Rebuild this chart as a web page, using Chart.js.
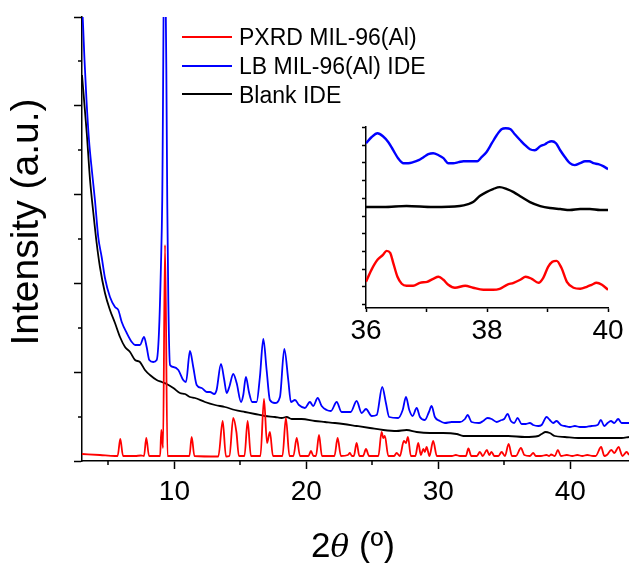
<!DOCTYPE html>
<html>
<head>
<meta charset="utf-8">
<title>PXRD MIL-96(Al)</title>
<script src="https://cdn.jsdelivr.net/npm/chart.js@4.4.1/dist/chart.umd.min.js"></script>
<style>
body { margin: 0; background: #fff; }
#wrap { position: relative; width: 629px; height: 563px; overflow: hidden; font-family: "Liberation Sans", Arial, sans-serif; color: #000; }
#main { position: absolute; left: 0; top: 0; }
#inset { position: absolute; left: 340px; top: 110px; }
.key { position: absolute; left: 182px; width: 50px; height: 0; border-top: 2px solid; }
.keytext { position: absolute; left: 239px; height: 29px; font-size: 23px; line-height: 29px; white-space: nowrap; }
#ytitle { position: absolute; left: -125px; top: 202px; width: 300px; height: 40px; line-height: 40px; font-size: 39px; text-align: center; transform: rotate(-90deg); white-space: nowrap; }
#xtitle { position: absolute; left: 203px; top: 528px; width: 300px; height: 34px; line-height: 34px; font-size: 35px; text-align: center; white-space: nowrap; }
#xtitle i { font-family: "DejaVu Serif", serif; font-size: 31px; }
</style>
</head>
<body>
<div id="wrap">
  <canvas id="main" width="629" height="563"></canvas>
  <canvas id="inset" width="289" height="240"></canvas>

  <div class="key" style="top:36px;border-color:#ff0000"></div>
  <div class="keytext" style="top:23px">PXRD MIL-96(Al)</div>
  <div class="key" style="top:65px;border-color:#0000ff"></div>
  <div class="keytext" style="top:52px">LB MIL-96(Al) IDE</div>
  <div class="key" style="top:93px;border-color:#000000"></div>
  <div class="keytext" style="top:81px">Blank IDE</div>

  <div id="ytitle">Intensity (a.u.)</div>
  <div id="xtitle">2<i>θ</i> (º)</div>
</div>

<script>
// main pattern, 2theta in degrees, intensity in a.u.
var pxrdTheta = [3.00, 4.36, 5.50, 5.70, 5.90, 6.11, 7.02, 7.47, 7.70, 7.87, 8.08, 8.76, 8.92, 9.01, 9.14, 9.29, 9.48,
    10.08, 11.14, 11.31, 11.52, 13.33, 13.66, 13.91, 14.17, 14.46, 14.70, 14.89, 15.31, 15.55, 15.80, 16.52, 16.79,
    17.02, 17.24, 17.47, 18.19, 18.45, 18.72, 19.02, 19.27, 19.52, 20.16, 20.35, 20.54, 20.73, 20.96, 21.18, 22.13,
    22.37, 22.62, 23.15, 23.30, 23.45, 23.60, 23.81, 24.02, 24.30, 24.52, 24.75, 25.46, 25.70, 25.83, 25.95, 26.21,
    26.65, 26.84, 27.09, 27.39, 27.55, 27.70, 27.92, 28.26, 28.48, 28.68, 28.86, 28.98, 29.11, 29.33, 29.61, 29.89,
    31.03, 31.33, 31.64, 32.09, 32.28, 32.50, 32.92, 33.15, 33.37, 33.68, 33.86, 34.03, 34.25, 34.55, 34.80, 35.05,
    35.33, 35.58, 35.88, 36.26, 36.52, 36.94, 37.19, 37.39, 37.77, 38.20, 38.40, 38.55, 38.83, 39.06, 39.29, 39.74,
    40.15, 40.53, 40.91, 41.28, 41.73, 41.92, 42.34, 42.58, 42.77, 43.11, 43.34, 43.66, 43.95, 44.27, 44.45];
var pxrdIntensity = [7, 6, 5, 5, 22, 5, 5, 5.5, 5, 23, 5, 5, 5, 31, 13, 216, 5,
    5, 5, 24, 5, 4.5, 40, 4.5, 5, 43, 29, 5, 5, 40, 5, 5, 62,
    18, 29, 5, 5, 43, 5, 5, 23, 5, 5, 10, 5, 5, 26, 5, 5,
    23, 5, 6, 8, 5, 5, 18, 5, 5, 12, 5, 5, 29, 23, 25, 5,
    5, 8, 5, 20, 18, 24, 5, 5, 18, 6, 12, 9, 14, 5, 20, 5,
    5, 6, 5, 5, 12.5, 5, 5, 9, 5, 11, 6, 9, 5, 5, 9, 5,
    17, 5, 5, 13, 6, 5, 8, 5, 5, 6, 5, 6.5, 5, 11, 5, 6,
    5, 6, 5, 6, 5, 5, 14, 5, 6, 11, 8, 14, 5, 9, 6];

var lbTheta = [3.00, 3.05, 3.19, 3.34, 3.53, 3.76, 3.98, 4.23, 4.49, 4.74, 5.12, 5.50, 5.75, 6.01, 6.39, 6.77, 7.02,
    7.39, 7.70, 7.90, 8.10, 8.40, 8.66, 8.83, 8.98, 9.08, 9.27, 9.46, 9.54, 9.67, 9.92, 10.30, 10.67, 10.88, 11.18,
    11.43, 11.69, 12.07, 12.45, 12.70, 13.02, 13.20, 13.53, 13.78, 13.96, 14.16, 14.46, 14.72, 15.05, 15.22, 15.42,
    15.65, 15.90, 16.23, 16.48, 16.74, 16.99, 17.24, 17.62, 18.00, 18.33, 18.63, 18.83, 19.14, 19.44, 19.89, 20.27,
    20.52, 20.86, 21.16, 21.54, 21.86, 22.30, 22.67, 23.36, 23.81, 24.19, 24.52, 24.95, 25.33, 25.75, 26.03, 26.28,
    26.96, 27.30, 27.55, 27.80, 28.05, 28.36, 28.61, 28.98, 29.29, 29.49, 29.74, 30.12, 30.50, 31.01, 31.64, 32.02,
    32.22, 32.52, 33.08, 33.40, 33.73, 34.04, 34.42, 34.80, 34.99, 35.25, 35.50, 35.75, 36.01, 36.31, 36.61, 36.94,
    37.19, 37.57, 37.83, 38.20, 38.45, 38.70, 38.96, 39.29, 39.59, 39.97, 40.35, 40.73, 41.11, 41.61, 42.07, 42.32,
    42.57, 42.83, 43.08, 43.33, 43.63, 43.89, 44.19, 44.45];
var lbIntensity = [452, 444, 401, 361, 321, 289, 261, 224, 204, 183, 164, 154, 151, 139, 128, 119, 116,
    116, 124, 114, 101, 99, 101, 128, 194, 261, 560, 261, 161, 96, 94, 91, 81, 79, 110,
    94, 76, 73, 69, 69, 67, 71, 97, 81, 68, 74, 87, 78, 59, 66, 84,
    69, 59, 59, 84, 122, 91, 61, 58, 64, 112, 81, 59, 61, 56, 53, 59,
    55, 63, 55, 51, 50, 59, 49, 49, 60, 48, 52, 45, 46, 74, 58, 44,
    43, 51, 64, 51, 45, 53, 44, 41, 49, 55, 44, 40, 38, 39, 39, 42,
    46, 39, 38, 40, 43, 42, 39, 41, 42, 47, 40, 38, 43, 37, 37, 38,
    36, 35, 36, 44, 41, 38, 40, 36, 35, 34, 35, 34, 34, 35, 36, 41,
    35, 38, 40, 38, 42, 38, 38, 38];

var blankTheta = [3.00, 3.36, 3.61, 3.86, 4.11, 4.36, 4.74, 5.12, 5.50, 5.88, 6.26, 6.64, 7.02, 7.39, 7.77, 8.15,
    8.66, 9.04, 9.42, 9.92, 10.42, 10.80, 11.18, 11.56, 12.32, 13.08, 13.83, 14.59, 15.35, 16.11, 16.86, 17.62,
    18.13, 18.51, 18.89, 19.64, 20.65, 21.41, 22.17, 22.80, 23.81, 24.82, 25.83, 26.84, 27.60, 28.36, 29.36, 30.37,
    31.39, 31.89, 32.39, 33.15, 34.04, 35.30, 36.56, 37.57, 37.83, 38.13, 38.45, 38.83, 39.59, 40.60, 41.61, 42.87,
    43.89, 44.45];
var blankIntensity = [386, 328, 281, 248, 218, 194, 168, 151, 138, 124, 114, 109, 101, 99, 91, 86,
    81, 79, 77, 73, 68, 67, 64, 63, 59, 56, 54, 51, 49, 47, 45, 44,
    43, 44, 42, 42, 40, 39, 38, 37, 35, 33, 31, 30, 31, 29, 28, 28,
    27, 25, 25, 25, 25, 25, 24, 25, 27, 29, 28, 25, 24, 23, 23, 23,
    23, 24];

// inset 36-40 degrees, traces stacked with an offset
var insetPxrdTheta = [36.00, 36.09, 36.19, 36.28, 36.34, 36.40, 36.45, 36.52, 36.59, 36.67, 36.78, 36.89, 37.01,
    37.11, 37.20, 37.28, 37.36, 37.47, 37.64, 37.77, 37.94, 38.10, 38.21, 38.33, 38.44, 38.55, 38.64, 38.74, 38.85,
    38.93, 39.01, 39.08, 39.15, 39.23, 39.32, 39.43, 39.54, 39.65, 39.73, 39.81, 39.90, 40.00];
var insetPxrdIntensity = [23, 35, 45, 50, 54, 52, 42, 28, 21, 19, 19, 22, 23,
    26, 28, 25, 20, 17, 19, 17, 15, 15, 16, 20, 22, 25, 28, 26, 22,
    27, 38, 43, 44, 37, 23, 17, 16, 18, 20, 22, 20, 15];

var insetLbTheta = [36.00, 36.09, 36.19, 36.28, 36.37, 36.45, 36.53, 36.62, 36.70, 36.78, 36.87, 36.95, 37.03,
    37.11, 37.20, 37.28, 37.36, 37.44, 37.53, 37.61, 37.69, 37.77, 37.84, 37.91, 37.99, 38.08, 38.16, 38.24, 38.31,
    38.39, 38.46, 38.55, 38.63, 38.71, 38.79, 38.88, 38.96, 39.01, 39.07, 39.14, 39.21, 39.29, 39.37, 39.45, 39.54,
    39.62, 39.69, 39.76, 39.84, 39.92, 40.00];
var insetLbIntensity = [162, 168, 172, 169, 163, 155, 147, 142, 142, 143, 145, 148, 151,
    152, 150, 147, 142, 142, 143, 144, 144, 144, 144, 148, 153, 162, 170, 176, 177,
    176, 171, 165, 160, 156, 155, 159, 161, 163, 164, 162, 155, 148, 142, 140, 142,
    144, 144, 142, 141, 139, 136];

var insetBlankTheta = [36.00, 36.29, 36.67, 37.11, 37.55, 37.69, 37.77, 37.88, 37.99, 38.10, 38.21, 38.33, 38.44,
    38.57, 38.71, 38.88, 39.04, 39.21, 39.37, 39.54, 39.70, 39.87, 40.00];
var insetBlankIntensity = [98, 98, 99, 98, 99, 101, 103, 109, 113, 116, 118, 116, 113,
    108, 103, 99, 97, 96, 95, 96, 96, 95, 95];

var mainMajorX = [10, 20, 30, 40];
var mainMinorX = [5, 15, 25, 35];
var mainMajorY = [0, 88.8, 177.6, 266.4, 355.2, 444];
var mainMinorY = [44.4, 133.2, 222, 310.8, 399.6];
var insetTicksX = [36, 37, 38, 39, 40];
var insetTicksY = [0, 17.8, 35.6, 53.4, 71.2, 89, 106.8, 124.6, 142.4, 160.2, 178];

var FONT = '"Liberation Sans", Arial, sans-serif';

var zip = function(xs, ys){
    return xs.map(function(x, i){ return { x: x, y: ys[i] }; });
};

var series = function(label, xs, ys, color, width){
    return {
        label: label,
        data: zip(xs, ys),
        borderColor: color,
        borderWidth: width,
        pointRadius: 0,
        fill: false,
        cubicInterpolationMode: 'monotone',
        borderJoinStyle: 'round'
    };
};

var setTicks = function(values){
    return function(scale){
        scale.ticks = values.map(function(v){ return { value: v }; });
    };
};

// short ticks that Chart.js has no option for
var minorTicks = function(xs, ys, len){
    return {
        id: 'minorTicks',
        afterDraw: function(chart){
            var ctx = chart.ctx, sx = chart.scales.x, sy = chart.scales.y;
            ctx.save();
            ctx.strokeStyle = '#000';
            ctx.lineWidth = 1.5;
            ctx.beginPath();
            xs.forEach(function(v){
                var p = Math.round(sx.getPixelForValue(v));
                ctx.moveTo(p, sy.bottom);
                ctx.lineTo(p, sy.bottom + len);
            });
            ys.forEach(function(v){
                var p = Math.round(sy.getPixelForValue(v));
                ctx.moveTo(sx.left, p);
                ctx.lineTo(sx.left - len, p);
            });
            ctx.stroke();
            ctx.restore();
        }
    };
};

var axisGrid = function(len){
    return { drawOnChartArea: false, drawTicks: true, tickLength: len, tickWidth: 1.5, tickColor: '#000' };
};

new Chart(document.getElementById('main'), {
    type: 'line',
    data: {
        datasets: [
            series('PXRD MIL-96(Al)', pxrdTheta, pxrdIntensity, '#ff0000', 1.8),
            series('LB MIL-96(Al) IDE', lbTheta, lbIntensity, '#0000ff', 1.8),
            series('Blank IDE', blankTheta, blankIntensity, '#000000', 1.8)
        ]
    },
    options: {
        responsive: false,
        animation: false,
        events: [],
        layout: { padding: { top: 17, right: 0, bottom: 0, left: 0 } },
        plugins: { legend: { display: false }, tooltip: { enabled: false } },
        scales: {
            x: {
                type: 'linear', min: 3, max: 44.45,
                afterBuildTicks: setTicks(mainMajorX),
                afterFit: function(s){ s.height = 102; },
                grid: axisGrid(8),
                border: { color: '#000', width: 1.5 },
                ticks: { color: '#000', padding: 6, maxRotation: 0, font: { family: FONT, size: 28 } }
            },
            y: {
                type: 'linear', min: 0, max: 444,
                afterBuildTicks: setTicks(mainMajorY),
                afterFit: function(s){ s.width = 82; },
                grid: axisGrid(8),
                border: { color: '#000', width: 1.5 },
                ticks: { display: false }
            }
        }
    },
    plugins: [minorTicks(mainMinorX, mainMinorY, 4)]
});

new Chart(document.getElementById('inset'), {
    type: 'line',
    data: {
        datasets: [
            series('PXRD MIL-96(Al)', insetPxrdTheta, insetPxrdIntensity, '#ff0000', 2.4),
            series('LB MIL-96(Al) IDE', insetLbTheta, insetLbIntensity, '#0000ff', 2.4),
            series('Blank IDE', insetBlankTheta, insetBlankIntensity, '#000000', 2.4)
        ]
    },
    options: {
        responsive: false,
        animation: false,
        events: [],
        layout: { padding: { top: 17, right: 21, bottom: 0, left: 0 } },
        plugins: { legend: { display: false }, tooltip: { enabled: false } },
        scales: {
            x: {
                type: 'linear', min: 36, max: 40,
                afterBuildTicks: setTicks(insetTicksX),
                afterFit: function(s){ s.height = 42; },
                grid: axisGrid(4),
                border: { color: '#000', width: 1.5 },
                ticks: {
                    color: '#000', padding: 2, maxRotation: 0, font: { family: FONT, size: 28 },
                    callback: function(v){ return v % 2 === 0 ? v : ''; }
                }
            },
            y: {
                type: 'linear', min: -3.3, max: 178.3,
                afterBuildTicks: setTicks(insetTicksY),
                afterFit: function(s){ s.width = 26; },
                grid: axisGrid(4),
                border: { color: '#000', width: 1.5 },
                ticks: { display: false }
            }
        }
    }
});
</script>
</body>
</html>
